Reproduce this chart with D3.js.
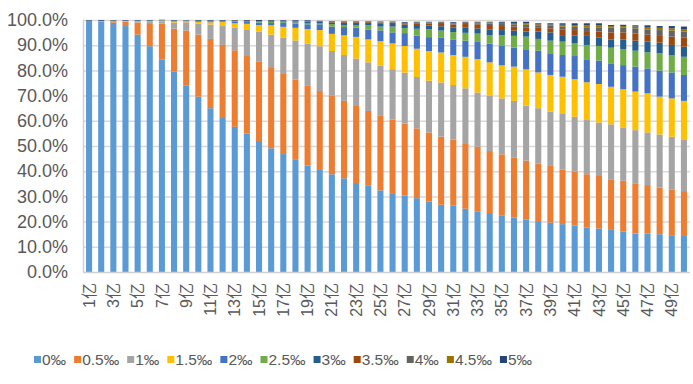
<!DOCTYPE html>
<html>
<head>
<meta charset="utf-8">
<script src="https://cdn.jsdelivr.net/npm/d3@7"></script>
<style>
  body { margin: 0; background: #fff; }
  text { font-family: "Liberation Sans", Arial, "Noto Sans CJK SC", sans-serif; fill: #595959; }
</style>
</head>
<body>
<div id="chart"></div>
<script>
// Categories and legend labels
const categories = ['1亿','2亿','3亿','4亿','5亿','6亿','7亿','8亿','9亿','10亿',
  '11亿','12亿','13亿','14亿','15亿','16亿','17亿','18亿','19亿','20亿',
  '21亿','22亿','23亿','24亿','25亿','26亿','27亿','28亿','29亿','30亿',
  '31亿','32亿','33亿','34亿','35亿','36亿','37亿','38亿','39亿','40亿',
  '41亿','42亿','43亿','44亿','45亿','46亿','47亿','48亿','49亿','50亿'];
const seriesNames = ['0‰','0.5‰','1‰','1.5‰','2‰','2.5‰','3‰','3.5‰','4‰','4.5‰','5‰'];
const colors = ['#5B9BD5','#ED7D31','#A5A5A5','#FFC000','#4472C4','#70AD47','#255E91','#9E480E','#636363','#997300','#264478'];
const yTicks = [0, 10, 20, 30, 40, 50, 60, 70, 80, 90, 100];

// Series values (% of each bar)
const s0 = [99.6,99.3,98.9,97.6,94.2,89.6,84.4,79.5,74.1,69.6,65.0,61.1,57.6,55.0,52.0,49.1,46.8,44.5,42.2,40.5,
  38.8,37.2,35.3,34.2,32.4,31.3,30.3,29.3,28.0,26.7,26.3,25.1,24.1,23.4,22.3,21.6,20.9,20.2,19.6,19.0,
  18.5,17.7,17.3,16.7,16.0,15.3,15.3,15.0,14.6,14.3];
const s05 = [0.1,0.2,0.6,1.7,4.8,8.8,14.2,17.1,21.7,24.6,27.5,29.0,30.4,30.7,31.6,32.2,32.1,31.9,31.9,31.3,
  31.3,30.7,30.9,29.7,29.8,29.2,28.6,27.7,27.4,27.0,26.3,25.7,25.6,24.6,24.4,23.9,23.3,22.9,22.5,21.7,
  21.3,21.1,20.8,20.1,20.2,19.9,19.2,18.5,18.2,17.8];
const s1 = [0,0.1,0.1,0.2,0.4,0.8,0.9,2.4,3.3,4.3,5.7,7.5,8.9,10.6,11.8,12.9,14.1,15.5,16.6,17.8,
  17.6,18.2,18.5,19.3,19.6,20.0,20.2,20.4,20.5,21.5,21.6,22.1,21.5,22.0,22.2,22.4,21.8,21.9,21.5,22.0,
  21.8,21.5,21.2,21.8,21.2,21.1,20.9,21.1,20.9,20.3];
const s15 = [0,0,0.1,0.1,0.1,0.3,0.2,0.4,0.4,0.7,0.9,1.6,1.8,2.2,2.6,3.7,4.3,5.0,5.7,6.4,
  6.8,7.8,8.6,9.1,9.8,10.2,10.6,11.2,11.8,11.9,11.9,12.5,13.3,13.2,13.1,13.6,14.4,14.2,14.6,14.8,
  14.9,15.0,15.3,14.9,15.1,15.3,15.5,15.0,15.2,15.5];
const s2 = [0,0,0,0.1,0.1,0.1,0.1,0.2,0.2,0.3,0.4,0.3,0.6,0.7,1.0,0.9,1.5,1.7,1.9,2.3,
  2.9,3.3,3.7,3.9,4.3,4.4,5.1,5.2,5.5,5.8,6.2,6.4,6.8,7.4,7.7,7.5,8.0,8.6,8.6,8.6,
  9.2,9.1,9.3,9.3,9.6,9.9,9.9,10.3,10.3,10.3];
const s25 = [0,0,0,0,0.1,0.1,0.1,0.1,0.1,0.1,0.1,0.1,0.2,0.2,0.3,0.4,0.3,0.4,0.5,0.5,
  1.0,0.8,1.0,1.8,1.5,2.3,2.0,2.7,3.1,2.9,2.9,3.1,3.3,3.3,4.3,4.7,5.0,4.7,5.0,5.3,
  5.0,5.7,5.8,6.2,6.4,6.3,6.4,6.9,6.9,7.2];
const s3 = [0.1,0.1,0.1,0.1,0.1,0.1,0.1,0.1,0.1,0.2,0.2,0.2,0.2,0.2,0.2,0.3,0.3,0.4,0.5,0.4,
  0.6,0.8,0.8,0.8,1.1,1.0,1.4,1.5,1.5,1.7,1.9,2.2,2.1,2.4,2.0,2.1,2.0,2.9,3.3,2.6,
  3.1,3.6,3.4,3.3,3.8,4.0,4.2,4.2,4.0,4.0];
const s35 = [0,0,0,0,0,0,0,0,0,0,0,0,0.1,0.1,0.1,0.1,0.1,0.1,0.2,0.2,
  0.2,0.3,0.3,0.3,0.4,0.5,0.5,0.7,0.8,0.9,1.1,1.3,1.6,1.7,1.6,1.6,1.7,1.7,1.6,2.3,
  2.2,1.9,2.3,2.8,2.8,2.9,2.9,3.0,3.3,3.7];
const s4 = [0,0,0,0,0,0,0,0,0,0,0,0,0,0,0,0,0.1,0.1,0.1,0.1,
  0.1,0.1,0.1,0.1,0.1,0.1,0.1,0.2,0.3,0.4,0.5,0.4,0.4,0.6,0.8,0.9,1.0,0.8,1.0,1.1,
  1.3,1.5,1.5,1.9,1.8,2.0,2.0,2.0,2.4,2.3];
const s45 = [0,0,0,0,0,0,0,0,0,0,0,0,0,0,0,0,0,0,0,0,
  0.1,0.1,0.1,0.1,0.1,0.1,0.1,0.1,0.1,0.2,0.2,0.2,0.3,0.4,0.5,0.5,0.6,0.4,0.5,0.7,
  0.7,0.8,0.9,0.6,0.7,0.7,0.9,0.9,0.9,1.0];
const s5 = [0.2,0.3,0.2,0.2,0.2,0.2,0.1,0.2,0.1,0.2,0.2,0.2,0.2,0.3,0.4,0.3,0.3,0.3,0.3,0.2,
  0.2,0.2,0.2,0.2,0.3,0.3,0.3,0.3,0.3,0.3,0.3,0.3,0.3,0.3,0.4,0.5,0.6,0.4,0.5,0.6,
  0.7,0.8,0.9,0.4,0.5,0.5,0.7,0.7,0.9,1.0];

const seriesValues = [s0, s05, s1, s15, s2, s25, s3, s35, s4, s45, s5];

// Dimensions
const margin = {top: 20, right: 3, bottom: 112, left: 83};
const width = 693 - margin.left - margin.right;
const height = 384 - margin.top - margin.bottom;

// Table for d3.stack
const table = categories.map((c, i) => {
  const row = {cat: c};
  seriesNames.forEach((k, j) => row[k] = seriesValues[j][i]);
  return row;
});
const stacked = d3.stack().keys(seriesNames)(table);

const x = d3.scaleBand().domain(categories).range([0, width]).paddingInner(0.5).paddingOuter(0.25);
const y = d3.scaleLinear().domain([0, 100]).range([height, 0]);
const color = d3.scaleOrdinal().domain(seriesNames).range(colors);

const svg = d3.select('#chart').append('svg')
  .attr('width', 693)
  .attr('height', 384);

const chart = svg.append('g')
  .attr('transform', 'translate(' + margin.left + ',' + margin.top + ')');

// Gridlines
chart.append('g').selectAll('line')
  .data(yTicks.filter(d => d > 0)).enter()
  .append('line')
  .attr('x1', 0).attr('x2', width)
  .attr('y1', d => y(d) + 0.5).attr('y2', d => y(d) + 0.5)
  .attr('stroke', '#D9D9D9')
  .attr('stroke-width', 1.5);

// Bars
chart.append('g').selectAll('g')
  .data(stacked).enter()
  .append('g')
  .attr('fill', d => color(d.key))
  .selectAll('rect')
  .data(d => d).enter()
  .append('rect')
  .attr('x', d => x(d.data.cat))
  .attr('width', x.bandwidth())
  .attr('y', d => y(d[1]))
  .attr('height', d => Math.max(0, y(d[0]) - y(d[1])));

// Axis lines
chart.append('line')
  .attr('x1', 0).attr('x2', width)
  .attr('y1', height + 0.5).attr('y2', height + 0.5)
  .attr('stroke', '#D0D0D0').attr('stroke-width', 1.5);
chart.append('line')
  .attr('x1', 0.5).attr('x2', 0.5)
  .attr('y1', y(100)).attr('y2', height)
  .attr('stroke', '#D0D0D0').attr('stroke-width', 1.5);

// Y labels
const yAxis = d3.axisLeft(y).tickValues(yTicks).tickFormat(d => d3.format('.1f')(d) + '%').tickSize(0).tickPadding(15);
const yg = chart.append('g').call(yAxis);
yg.select('.domain').remove();
yg.selectAll('text').attr('font-size', 18).attr('fill', '#595959')
  .style('font-family', '"Liberation Sans", Arial, sans-serif');

// X labels (every other category)
chart.append('g').selectAll('text')
  .data(categories.filter((c, i) => i % 2 === 0)).enter()
  .append('text')
  .attr('transform', d => 'translate(' + (x(d) + x.bandwidth() / 2) + ',' + (height + 11) + ') rotate(-90)')
  .attr('text-anchor', 'end')
  .attr('dy', '0.35em')
  .attr('font-size', 16)
  .text(d => d);

// Legend
const legend = svg.append('g').attr('transform', 'translate(0,360)');
let lx = 34;
seriesNames.forEach((name, i) => {
  const item = legend.append('g');
  item.append('rect')
    .attr('x', lx).attr('y', -4)
    .attr('width', 7).attr('height', 7)
    .attr('fill', colors[i]);
  const t = item.append('text')
    .attr('x', lx + 8)
    .attr('dy', '0.35em')
    .attr('font-size', 15.5)
    .text(name);
  lx += 8 + t.node().getComputedTextLength() + 8;
});
</script>
</body>
</html>
